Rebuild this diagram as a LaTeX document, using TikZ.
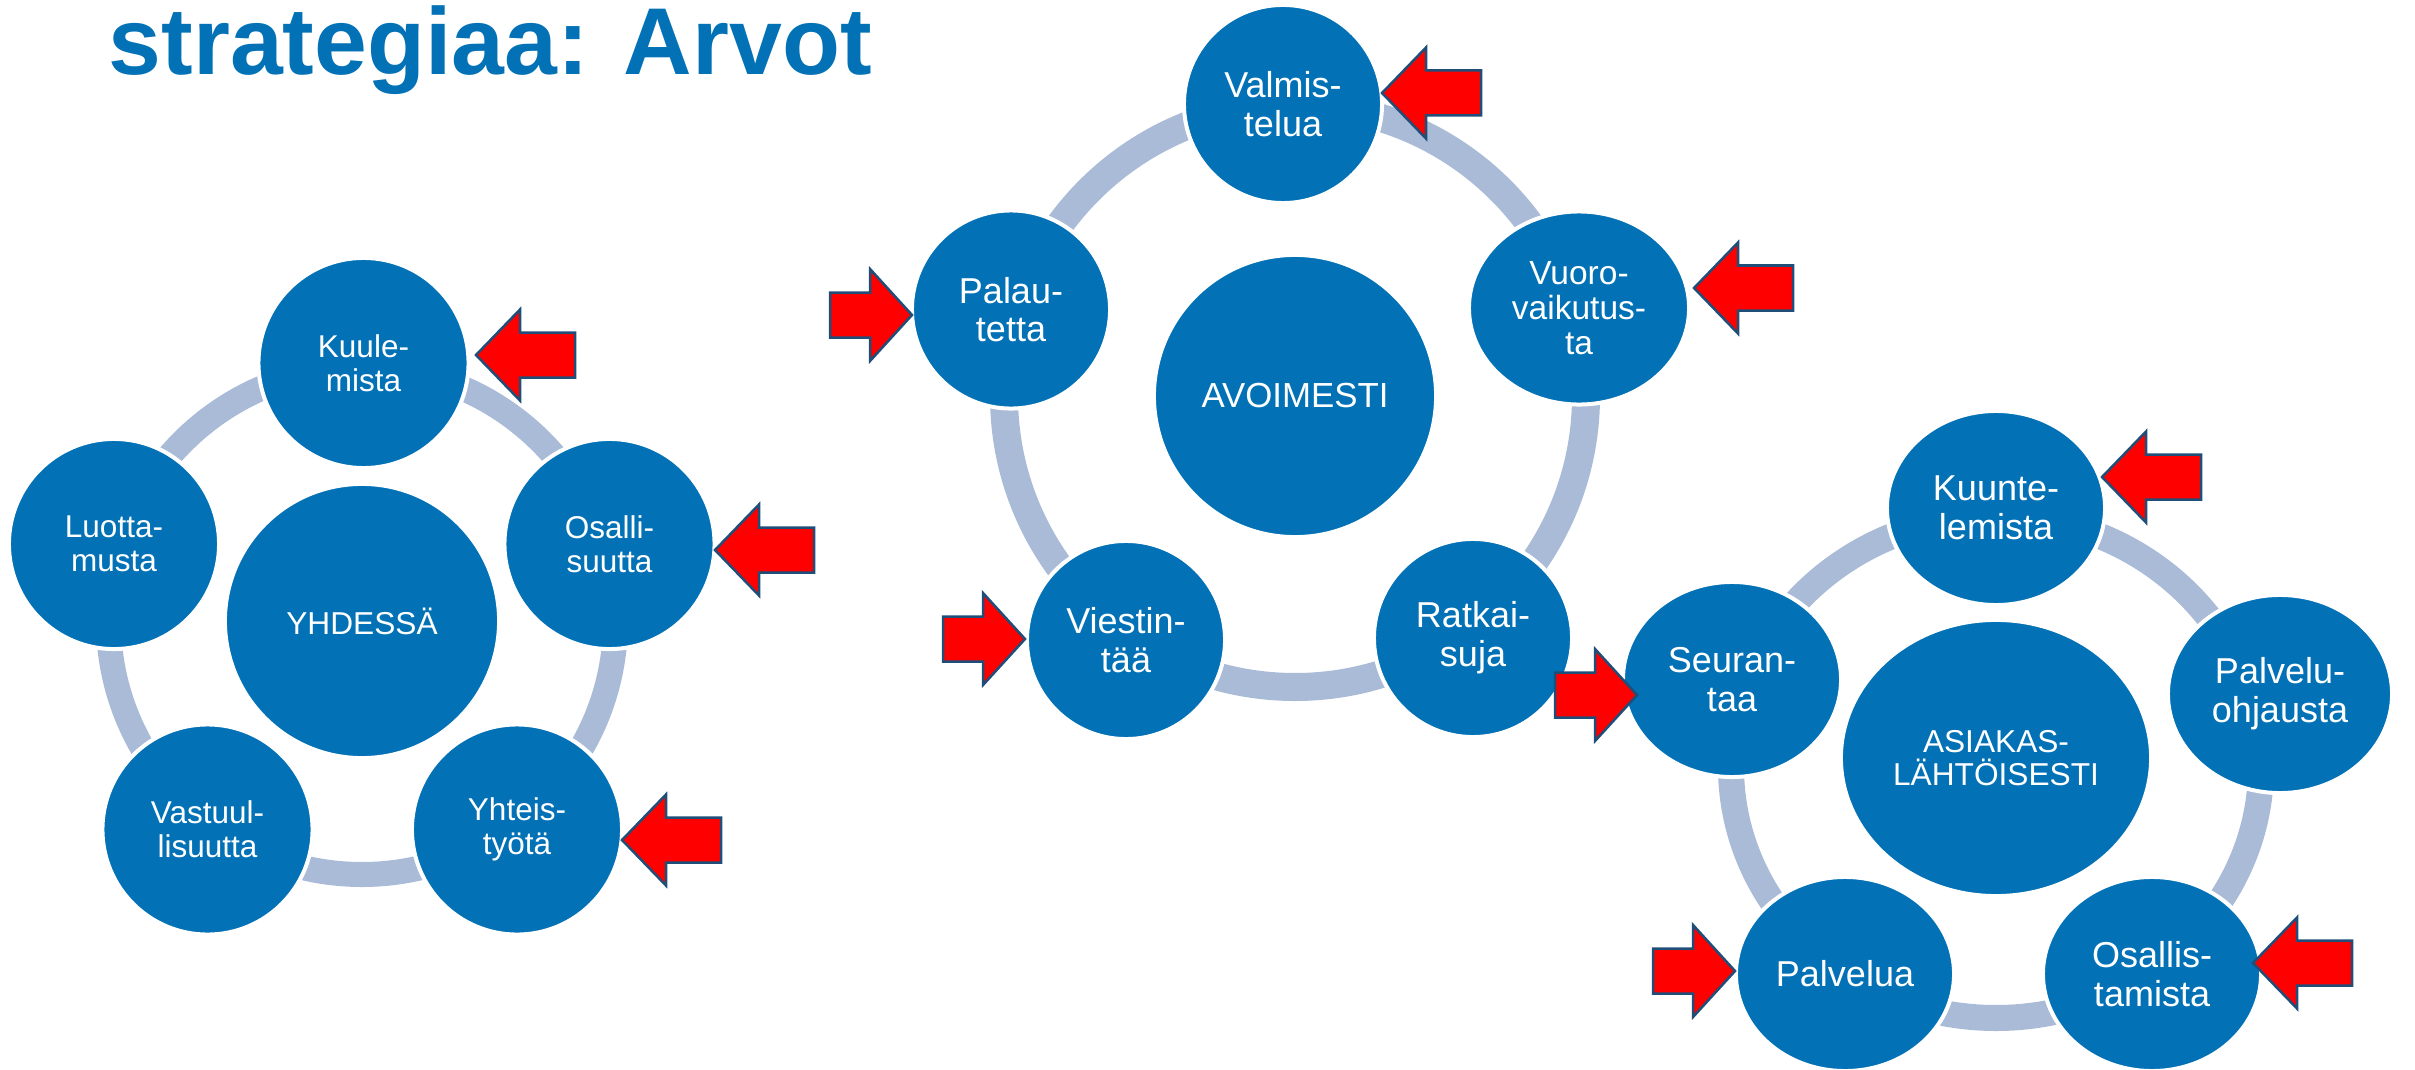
\documentclass[tikz,border=0pt]{standalone}
\usepackage{fontspec}
\setmainfont{Liberation Sans}
\usetikzlibrary{shapes.geometric}
\definecolor{cblue}{RGB}{2,113,182}
\definecolor{ringc}{RGB}{170,187,215}
\definecolor{arrline}{RGB}{31,78,121}
\begin{document}
\begin{tikzpicture}[x=0.01cm,y=-0.01cm,
  bub/.style={circle, fill=cblue, draw=white, line width=0.04cm, inner sep=0pt, text=white, align=center},
  ebub/.style={ellipse, fill=cblue, draw=white, line width=0.04cm, inner sep=0pt, text=white, align=center},
  fl/.style={font=\fontsize{8.96pt}{9.67pt}\selectfont},
  fm/.style={font=\fontsize{10.24pt}{11.0pt}\selectfont},
  ring/.style={draw=ringc, line width=0.26cm},
  arrstyle/.style={fill=red, draw=arrline, line width=0.025cm, line join=miter},
  larrow/.pic={\draw[arrstyle] (0,0) -- (44,-45.5) -- (44,-22.5) -- (99,-22.5) -- (99,22.5) -- (44,22.5) -- (44,45.5) -- cycle;},
  rarrow/.pic={\draw[arrstyle] (0,0) -- (-42,-46) -- (-42,-22.5) -- (-82,-22.5) -- (-82,22.5) -- (-42,22.5) -- (-42,46) -- cycle;}
]
\useasboundingbox (0,0) rectangle (2415,1070);

% title
\node[anchor=base west, inner sep=0pt, text=cblue, font=\fontsize{27pt}{32pt}\selectfont\bfseries] (title) at (108,75) {strategiaa: Arvot};

% ---------- left group ----------
\coordinate (lc) at (362,621);
\draw[ring, line width=0.25cm] (lc) circle [radius=253.5];
\node[bub, minimum size=2.10cm, fl] (kuul) at (363.5,363) {Kuule-\\mista};
\node[bub, minimum size=2.10cm, fl] (osal) at (609.5,544) {Osalli-\\suutta};
\node[bub, minimum size=2.10cm, fl] (yhte) at (517,829.5) {Yhteis-\\työtä};
\node[bub, minimum size=2.10cm, fl] (vast) at (207.5,829.5) {Vastuul-\\lisuutta};
\node[bub, minimum size=2.10cm, fl] (luot) at (114,544) {Luotta-\\musta};
\node[bub, minimum size=2.74cm, font=\fontsize{9.0pt}{9.7pt}\selectfont] (yhd) at (lc) {YHDESSÄ};

% ---------- middle group ----------
\coordinate (mc) at (1295,396);
\draw[ring, line width=0.28cm] (mc) circle [radius=291];
\node[bub, minimum size=1.98cm, fm] (valm) at (1283,104) {Valmis-\\telua};
\node[bub, minimum size=1.98cm, fm] (pala) at (1011,309.5) {Palau-\\tetta};
\node[ebub, minimum width=2.20cm, minimum height=1.93cm, font=\fontsize{9.53pt}{9.96pt}\selectfont] (vuor) at (1579,308) {Vuoro-\\vaikutus-\\ta};
\node[bub, minimum size=1.98cm, fm] (vies) at (1126,640) {Viestin-\\tää};
\node[bub, minimum size=1.98cm, fm] (ratk) at (1473,638) {Ratkai-\\suja};
\node[bub, minimum size=2.82cm, font=\fontsize{9.9pt}{10.6pt}\selectfont] (avoi) at (mc) {AVOIMESTI};

% ---------- right group ----------
\coordinate (rc) at (1996,767);
\draw[ring, line width=0.26cm] (rc) ellipse [x radius=265, y radius=251];
\node[ebub, minimum width=2.18cm, minimum height=1.94cm, fm] (kuun) at (1996,508) {Kuunte-\\lemista};
\node[ebub, minimum width=2.24cm, minimum height=1.98cm, fm] (palo) at (2280,694) {Palvelu-\\ohjausta};
\node[ebub, minimum width=2.18cm, minimum height=1.94cm, fm] (osat) at (2152,974) {Osallis-\\tamista};
\node[ebub, minimum width=2.18cm, minimum height=1.94cm, fm] (palv) at (1845,974) {Palvelua};
\node[ebub, minimum width=2.18cm, minimum height=1.95cm, fm] (seur) at (1732,679.5) {Seuran-\\taa};
\node[ebub, minimum width=3.10cm, minimum height=2.76cm, font=\fontsize{9.0pt}{9.4pt}\selectfont] (asia) at (1996,758) {ASIAKAS-\\LÄHTÖISESTI};

% ---------- red arrows ----------
\pic at (476,355) {larrow};
\pic at (715,550) {larrow};
\pic at (622,840) {larrow};
\pic at (1382,93) {larrow};
\pic at (1694,288) {larrow};
\pic at (2102,477) {larrow};
\pic at (2253,963) {larrow};
\pic at (912,315) {rarrow};
\pic at (1025,639) {rarrow};
\pic at (1637,695) {rarrow};
\pic at (1735,971) {rarrow};
\end{tikzpicture}
\end{document}
